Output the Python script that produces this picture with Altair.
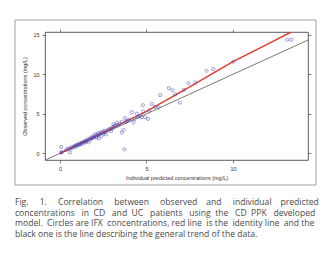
import altair as alt
import pandas as pd

# Observed vs individual predicted concentrations (mg/L)
pred = [0.06, 0.06, 0.10, 0.58, 0.35, 0.45, 0.55, 0.65, 0.70, 0.80, 0.85, 0.90, 0.95, 1.00,
        1.05, 1.10, 1.15, 1.20, 1.25, 1.30, 1.35, 1.40, 1.45, 1.50, 1.55, 1.60, 1.65, 1.70,
        1.75, 1.80, 1.85, 1.90, 1.95, 2.00, 2.05, 2.10, 2.12, 2.15, 2.20, 2.25, 2.30, 2.35,
        2.40, 2.45, 2.50, 2.55, 2.60, 2.65, 2.70, 2.80, 2.90, 2.95, 2.99, 3.05, 3.09, 3.15,
        3.20, 3.28, 3.35, 3.45, 3.57, 3.57, 3.67, 3.72, 3.76, 3.80, 3.90, 4.00, 4.15, 4.24,
        4.30, 4.44, 4.50, 4.63, 4.73, 4.79, 4.82, 4.92, 5.08, 5.15, 5.31, 5.50, 5.70, 5.79,
        6.29, 6.50, 6.66, 6.93, 7.16, 7.43, 7.82, 8.47, 8.86, 10.02, 13.14, 13.37]
obs = [0.80, 0.08, 0.15, 0.13, 0.40, 0.55, 0.60, 0.75, 0.65, 0.85, 0.95, 0.80, 1.05, 1.00,
       1.15, 1.05, 1.25, 1.15, 1.30, 1.40, 1.25, 1.50, 1.45, 1.60, 1.50, 1.75, 1.40, 1.85,
       1.70, 2.00, 1.90, 2.10, 1.95, 2.25, 2.40, 2.00, 2.10, 2.30, 2.55, 1.90, 2.45, 2.60,
       2.20, 2.70, 2.50, 2.85, 2.65, 2.40, 2.90, 3.00, 3.10, 2.80, 3.17, 3.30, 3.68, 3.45,
       3.50, 3.88, 3.60, 3.75, 4.00, 2.62, 2.96, 0.50, 4.44, 3.95, 4.10, 4.25, 5.20, 3.90,
       4.30, 5.00, 4.60, 4.73, 4.56, 6.09, 5.30, 4.56, 4.35, 5.40, 6.26, 5.90, 5.80, 7.36,
       8.25, 7.99, 7.48, 6.42, 8.03, 8.88, 8.96, 10.45, 10.66, 11.60, 14.38, 14.38]

# Red trend line
red_x = [0, 2.5, 5, 7.5, 10, 12, 13.37]
red_y = [0, 2.65, 5.3, 8.4, 11.6, 13.83, 15.36]

# Gray identity line
id_x = [-0.87, 14.34]
id_y = [-0.87, 14.34]

x_ticks = [0, 5, 10]
y_ticks = [0, 5, 10, 15]

x_title = "Individual predicted concentrations (mg/L)"
y_title = "Observed concentrations (mg/L)"

caption_words = [
    ["Fig.", "1.", "Correlation", "between", "observed", "and", "individual", "predicted"],
    ["concentrations", "in", "CD", "and", "UC", "patients", "using", "the", "CD", "PPK", "developed"],
    ["model.", "Circles", "are", "IFX", "concentrations,", "red", "line", "is", "the", "identity",
     "line", "and", "the"],
    ["black", "one", "is", "the", "line", "describing", "the", "general", "trend", "of", "the", "data."],
]
# extra (non-breaking) spaces per gap, imitating the justified caption
caption_pad = [
    [4, 4, 4, 4, 3, 4, 3],
    [2, 1, 2, 1, 2, 2, 1, 2, 1, 2],
    [1, 0, 0, 1, 0, 0, 1, 0, 1, 0, 1, 0],
    [0] * 11,
]


def join_line(words, pads):
    out = words[0]
    for w, p in zip(words[1:], pads):
        out += " " + "\u00a0" * p + w
    return out


caption = [join_line(w, p) for w, p in zip(caption_words, caption_pad)]

XDOM = [-0.87, 14.34]
YDOM = [-0.85, 15.36]
W, H = 263, 128

pts = pd.DataFrame({"x": pred, "y": obs})
red = pd.DataFrame({"x": red_x, "y": red_y})
ident = pd.DataFrame({"x": id_x, "y": id_y})

xs = alt.Scale(domain=XDOM, nice=False, zero=False)
ys = alt.Scale(domain=YDOM, nice=False, zero=False)

axis_common = dict(grid=False, domain=False, tickColor="#333", tickSize=3, tickWidth=0.6,
                   labelFontSize=5.5, labelColor="#333", labelFont="Liberation Sans",
                   titleFontSize=5.5, titleColor="#333", titleFont="Liberation Sans",
                   titleFontWeight="normal")

points = alt.Chart(pts).mark_point(shape="circle", filled=False, size=10,
                                   color="#4646b4", strokeWidth=0.75).encode(
    x=alt.X("x:Q", scale=xs, axis=alt.Axis(values=x_ticks, title=x_title, labelPadding=3,
                                            titlePadding=4, **axis_common)),
    y=alt.Y("y:Q", scale=ys, axis=alt.Axis(values=y_ticks, title=y_title, labelPadding=3,
                                            titlePadding=5, labelAngle=0, **axis_common)),
)

ident_line = alt.Chart(ident).mark_line(color="#555", strokeWidth=0.8, clip=True).encode(
    x=alt.X("x:Q", scale=xs, axis=alt.Axis(orient="top", values=x_ticks, labels=False,
                                            title=None, **axis_common)),
    y=alt.Y("y:Q", scale=ys, axis=alt.Axis(orient="right", values=y_ticks, labels=False,
                                            title=None, **axis_common)),
)

red_line = alt.Chart(red).mark_line(color="#e8392a", strokeWidth=1.5, clip=True).encode(
    x=alt.X("x:Q", scale=xs, axis=None),
    y=alt.Y("y:Q", scale=ys, axis=None),
)

frame = alt.Chart(pd.DataFrame({"a": [0]})).mark_rect(
    filled=False, stroke="#888", strokeWidth=0.8, clip=False).encode(
    x=alt.value(-30), x2=alt.value(271), y=alt.value(-12), y2=alt.value(153))

cap_layers = []
for i, line in enumerate(caption):
    cap_layers.append(
        alt.Chart(pd.DataFrame({"line": [line]})).mark_text(
            align="left", baseline="middle", font="Open Sans", fontSize=8.6,
            color="#4a4a4a", clip=False).encode(
            x=alt.value(-30), y=alt.value(170 + 10.6 * i), text="line:N")
    )

chart = alt.layer(frame, ident_line, red_line, points, *cap_layers).resolve_axis(
    x="independent", y="independent"
).properties(
    width=W, height=H,
    autosize=alt.AutoSizeParams(type="none"),
    padding={"left": 45, "top": 32, "right": 27, "bottom": 101},
    background="white",
).configure_view(stroke="#333", strokeWidth=0.8)

chart.save("out.html", embed_options={"renderer": "svg", "actions": False})
